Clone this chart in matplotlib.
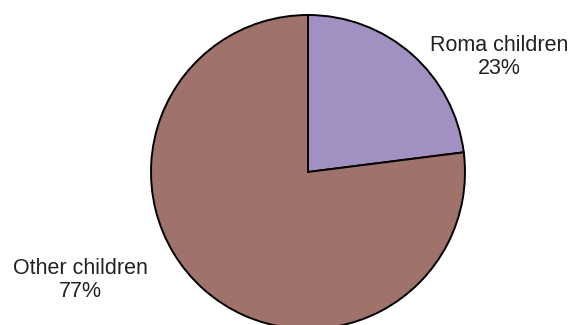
import matplotlib.pyplot as plt

labels = ['Roma children', 'Other children']
shares = [23, 77]
colors = ['#A390C2', '#A0726C']

fig = plt.figure(figsize=(5.75, 3.25), dpi=100)
ax = fig.add_axes([0, 0, 1, 1])

ax.pie(shares, colors=colors, startangle=90, counterclock=False,
       center=(308, 153), radius=157,
       wedgeprops=dict(edgecolor='black', linewidth=1.4))

ax.set_xlim(0, 575)
ax.set_ylim(0, 325)
ax.set_aspect('equal')
ax.axis('off')

# labels outside the pie
pos = [(499, 268), (80, 45)]
for lab, val, (x, y) in zip(labels, shares, pos):
    ax.text(x, y, f'{lab}\n{val}%', ha='center', va='center',
            fontsize=15.5, family='Liberation Sans', color='#222222',
            linespacing=1.15)

fig.savefig('out.png', dpi=100)
